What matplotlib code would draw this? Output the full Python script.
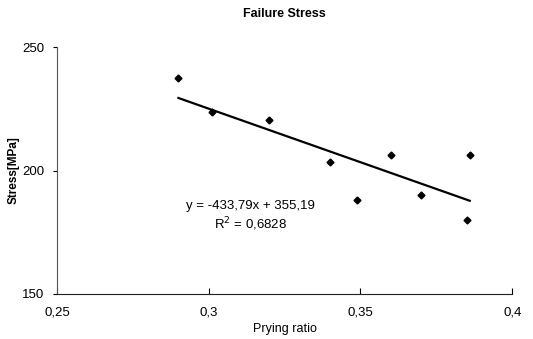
import matplotlib
matplotlib.use("Agg")
import matplotlib.pyplot as plt
import numpy as np

prying_ratio = [0.290, 0.301, 0.320, 0.340, 0.349, 0.360, 0.370, 0.385, 0.386]
stress = [237.4, 223.7, 220.4, 203.4, 188.1, 206.3, 190.1, 180.0, 206.3]
slope = -433.79
intercept = 355.19
r2 = 0.6828
x_ticks = [0.25, 0.30, 0.35, 0.40]
x_tick_labels = ["0,25", "0,3", "0,35", "0,4"]
y_ticks = [150, 200, 250]

plt.rcParams['font.family'] = ['Liberation Sans', 'DejaVu Sans']

fig = plt.figure(figsize=(5.33, 3.39), dpi=100)
ax = fig.add_axes([0.107, 0.133, 0.854, 0.728])

ax.plot(prying_ratio, stress, linestyle='none', marker='D', color='black', markersize=3.5)
xs = np.array([min(prying_ratio), max(prying_ratio)])
ax.plot(xs, slope * xs + intercept, color='black', linewidth=1.6)

ax.set_xlim(0.25, 0.40)
ax.set_ylim(150, 250)
ax.set_xticks(x_ticks)
ax.set_xticklabels(x_tick_labels)
ax.set_yticks(y_ticks)

for s in ['top', 'right']:
    ax.spines[s].set_visible(False)
ax.spines['left'].set_color('#555555')
ax.spines['bottom'].set_color('#222222')
ax.tick_params(axis='x', direction='in', length=4, labelsize=9.5, pad=9)
ax.tick_params(axis='y', direction='out', length=3, labelsize=9.5, pad=6)

ax.set_title('Failure Stress', fontsize=9, fontweight='bold', pad=22)
ax.set_xlabel('Prying ratio', fontsize=9, labelpad=3)
ax.set_ylabel('Stress[MPa]', fontsize=8.5, fontweight='bold', labelpad=2)

eq = "y = -433,79x + 355,19\nR$^2$ = 0,6828"
ax.text(0.3136, 181.5, eq, ha='center', va='center', fontsize=9.5, linespacing=1.25)

fig.savefig('out.png', dpi=100)
